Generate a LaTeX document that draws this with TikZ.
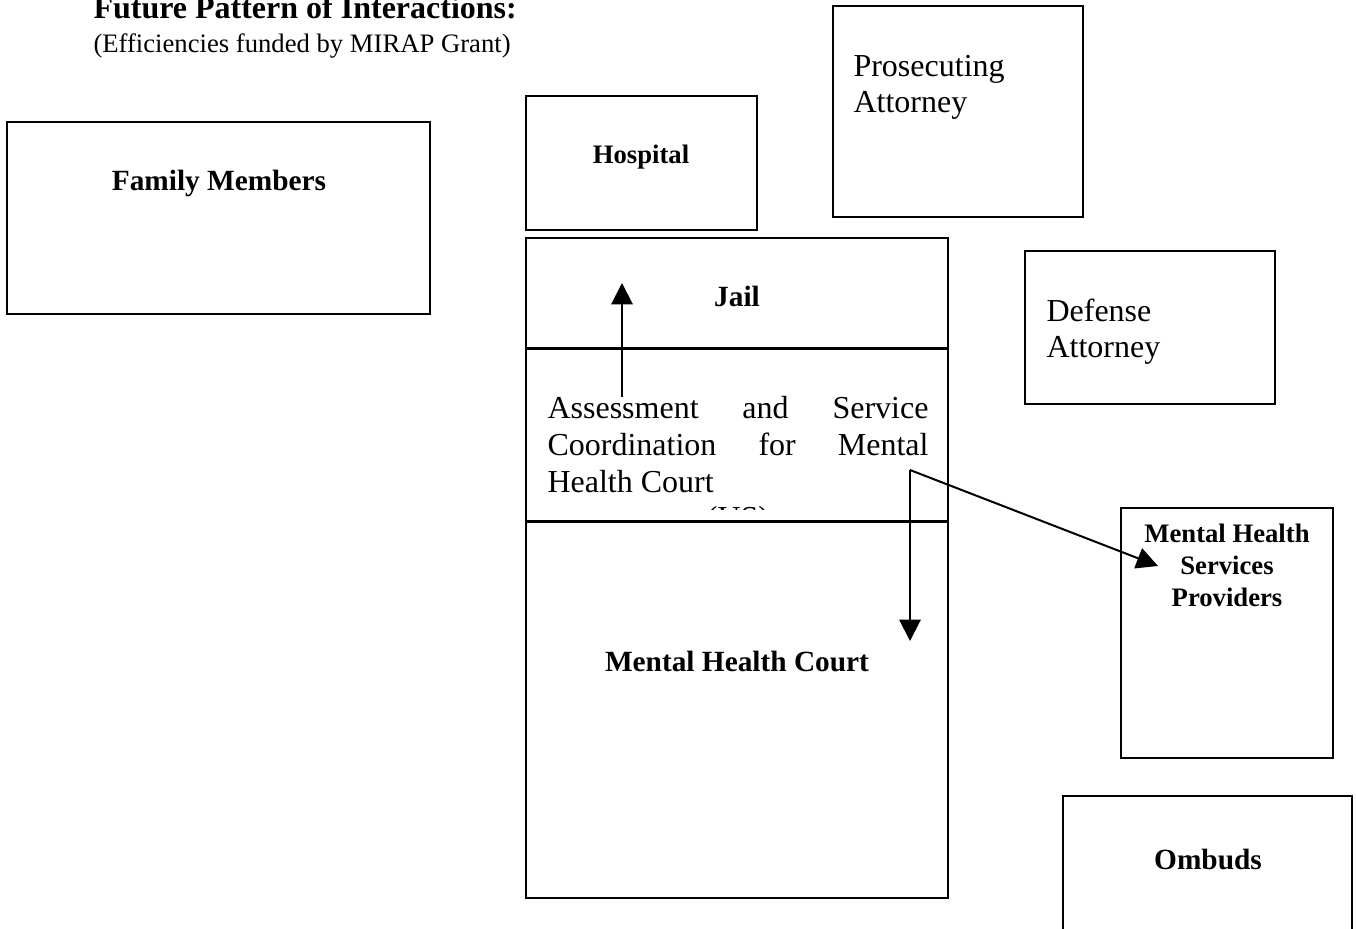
\documentclass[tikz,border=0pt]{standalone}
\usepackage{fontspec}
\setmainfont{Liberation Serif}
\usetikzlibrary{arrows.meta,positioning}

\tikzset{
  box/.style={draw, line width=0.6pt, inner sep=0pt},
  wh/.style 2 args={minimum width=#1*0.375pt, minimum height=#2*0.375pt},
  boldlbl/.style={font=\fontsize{11}{13}\selectfont\bfseries, inner sep=0pt},
  smallbold/.style={font=\fontsize{10}{12}\selectfont\bfseries, inner sep=0pt, align=center},
  plainlbl/.style={font=\fontsize{12}{13.7}\selectfont, inner sep=0pt, align=left},
  flow/.style={line width=0.75pt, -{Triangle[length=8pt,width=8pt]}}
}

\begin{document}
\begin{tikzpicture}[x=0.375pt, y=-0.375pt]

\useasboundingbox (0,0) rectangle (1356,929);
\clip (0,0) rectangle (1356,929);

% Title
\node[font=\fontsize{12}{14}\selectfont\bfseries, anchor=base west, inner sep=0pt] (title) at (93,19) {Future Pattern of Interactions:};
\node[font=\fontsize{10}{12}\selectfont, anchor=base west, inner sep=0pt] (subtitle) at (93,53) {(Efficiencies funded by MIRAP Grant)};

% Boxes
\node[box, wh={423}{192}] (family) at (218.5,218) {};
\node[box, wh={231}{134}] (hospital) at (641.5,163) {};
\node[box, wh={250}{211}] (prosec) at (958,111.5) {};
\node[box, wh={422}{110}] (jail) at (737,293) {};
\node[box, wh={422}{171}, below=0pt of jail] (assess) {};
\node[box, wh={422}{376}, below=0pt of assess] (mhc) {};
\node[box, wh={250}{153}] (defense) at (1150,327.5) {};
\node[box, wh={212}{250}] (mhsp) at (1227,633) {};
\node[box, wh={289}{204}] (ombuds) at (1207.5,898) {};

% Labels (multi-line ones sit on their last baseline)
\node[boldlbl, anchor=base] (familytxt) at (219,191) {Family Members};
\node[smallbold, anchor=base] (hospitaltxt) at (641,164) {Hospital};
\node[plainlbl, anchor=base west] (prosectxt) at (853,113) {Prosecuting\\Attorney};
\node[boldlbl, anchor=base] (jailtxt) at (737,307) {Jail};
\node[plainlbl, anchor=base west] (defensetxt) at (1046,358) {Defense\\Attorney};
\node[boldlbl, anchor=base] (mhctxt) at (737,671) {Mental Health Court};
\node[smallbold, anchor=base] (mhsptxt) at (1227,606) {Mental Health\\Services\\Providers};
\node[boldlbl, anchor=base] (ombudstxt) at (1208,869) {Ombuds};

% Assessment text, cut off at the bottom of its box
\begin{scope}
  \clip (526,348) rectangle (948,510);
  \node[font=\fontsize{12}{13.7}\selectfont, inner sep=0pt, text width=381*0.375pt, align=justify, anchor=base west] (assesstxt) at (547,419)
    {Assessment and Service\linebreak Coordination for Mental\linebreak Health Court\par\centerline{(US)}};
\end{scope}

% Arrows
\coordinate (upfoot) at (622,397);
\coordinate (uptip) at (622,283);
\coordinate (split) at (910,470);
\coordinate (downtip) at (910,641);
\coordinate (mhsptip) at (1158,566);

\draw[flow] (upfoot) -- (uptip);
\draw[flow] (split) -- (downtip);
\draw[flow] (split) -- (mhsptip);

\end{tikzpicture}
\end{document}
